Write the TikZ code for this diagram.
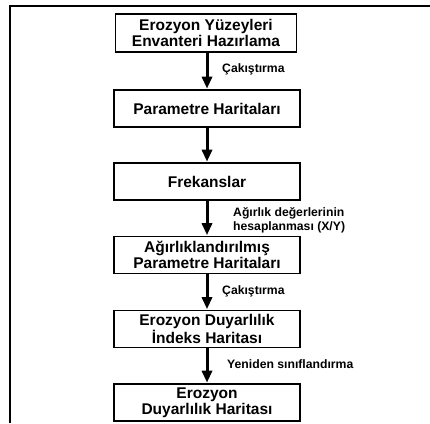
\documentclass[tikz,border=0pt]{standalone}
\usepackage{fontspec}
\setmainfont{Liberation Sans}
\usetikzlibrary{arrows.meta}
\begin{document}
\begin{tikzpicture}[x=1pt,y=-1pt,
  box/.style={draw, line width=1.6pt, rectangle, minimum width=186pt, minimum height=37pt,
    inner sep=0pt, align=center, font=\bfseries\fontsize{15.5}{16}\selectfont},
  lbl/.style={anchor=west, inner sep=0pt, align=left, font=\bfseries\fontsize{12.2}{14}\selectfont},
  arr/.style={line width=3pt, -{Triangle[width=10pt,length=12pt]}, shorten >=0.5pt}]
\useasboundingbox (0,0) rectangle (430,423);
\coordinate (f1) at (9.5,423);
\coordinate (f2) at (9.5,5.5);
\coordinate (f3) at (430,5.5);
\draw[line width=2pt] (f1) -- (f2) -- (f3);

\node[box, minimum width=181pt, minimum height=38pt] (b1) at (206,33) {Erozyon Yüzeyleri\\Envanteri Hazırlama};
\node[box] (b2) at (207,108.5) {Parametre Haritaları};
\node[box] (b3) at (207,181.5) {Frekanslar};
\node[box] (b4) at (207,255) {Ağırlıklandırılmış\\Parametre Haritaları};
\node[box] (b5) at (207,329) {Erozyon Duyarlılık\\İndeks Haritası};
\node[box] (b6) at (207,402.5) {Erozyon\\Duyarlılık Haritası};

\draw[arr] (b1.south -| b2.center) -- (b2.north);
\draw[arr] (b2) -- (b3);
\draw[arr] (b3) -- (b4);
\draw[arr] (b4) -- (b5);
\draw[arr] (b5) -- (b6);

\node[lbl] (l1) at (222,69) {Çakıştırma};
\node[lbl] (l2) at (233,220) {Ağırlık değerlerinin\\hesaplanması (X/Y)};
\node[lbl] (l3) at (222,291) {Çakıştırma};
\node[lbl] (l4) at (227,364.5) {Yeniden sınıflandırma};
\end{tikzpicture}
\end{document}
